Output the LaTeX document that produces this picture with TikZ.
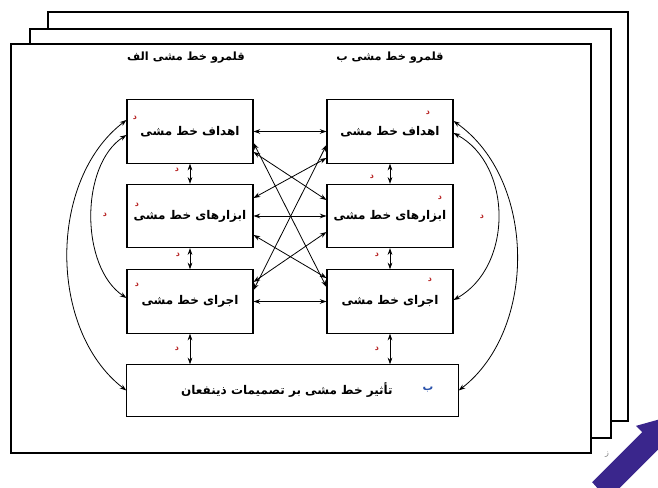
\documentclass[tikz,border=0pt]{standalone}
\usepackage{fontspec}
\newfontfamily\farsi[Script=Arabic]{DejaVu Sans}
\TeXXeTstate=1
\usetikzlibrary{arrows.meta,calc,positioning}
\definecolor{arrowpurple}{RGB}{58,38,140}
\definecolor{markred}{RGB}{185,40,40}
\definecolor{markblue}{RGB}{40,80,170}

\begin{document}
\begin{tikzpicture}[x=0.75pt,y=-0.75pt,
    frame/.style={draw, line width=0.8pt, fill=white},
    box/.style={draw, line width=0.8pt, fill=white, minimum width=94.5pt, minimum height=47.5pt, font=\farsi\bfseries\fontsize{9}{10}\selectfont},
    twoway/.style={{Stealth[length=5pt,width=3.5pt]}-{Stealth[length=5pt,width=3.5pt]}, line width=0.6pt},
    dmark/.style={text=markred, font=\farsi\bfseries\fontsize{6}{6}\selectfont, inner sep=0pt},
    head/.style={font=\farsi\bfseries\fontsize{8.5}{10}\selectfont, inner sep=0pt}]
    \useasboundingbox (0,0) rectangle (658,488);

    % stacked sheets
    \draw [frame] (48,12) rectangle (628,421);
    \draw [frame] (30,29) rectangle (611,438);
    \draw [frame] (11,44) rectangle (591,453);

    \node [head] (heada) at (186,58) {\beginR قلمرو خط مشی الف\endR};
    \node [head] (headb) at (390,58) {\beginR قلمرو خط مشی ب\endR};

    % boxes
    \node [box] (lgoals) at (190,131.5) {\beginR اهداف خط مشی\endR};
    \node [box] (rgoals) at (390,131.5) {\beginR اهداف خط مشی\endR};
    \node [box] (ltools) at (190,216) {\beginR ابزارهای خط مشی\endR};
    \node [box] (rtools) at (390,216) {\beginR ابزارهای خط مشی\endR};
    \node [box] (limpl) at (190,301.5) {\beginR اجرای خط مشی\endR};
    \node [box] (rimpl) at (390,301.5) {\beginR اجرای خط مشی\endR};
    \node [box, minimum width=248.5pt, minimum height=38.5pt] (impact) at (292.5,390.5) {};
    \node [font=\farsi\bfseries\fontsize{9}{10}\selectfont] (impacttext) at (287,390) {\beginR تأثیر خط مشی بر تصمیمات ذینفعان\endR};
    \node [text=markblue, font=\farsi\bfseries\fontsize{8}{9}\selectfont] (bmark) at (428,390) {ب};

    % vertical links
    \draw [twoway] (lgoals) -- (ltools);
    \draw [twoway] (ltools) -- (limpl);
    \draw [twoway] (limpl) -- (limpl |- impact.north);
    \draw [twoway] (rgoals) -- (rtools);
    \draw [twoway] (rtools) -- (rimpl);
    \draw [twoway] (rimpl) -- (rimpl |- impact.north);

    % links across
    \draw [twoway] (lgoals) -- (rgoals);
    \draw [twoway] (ltools) -- (rtools);
    \draw [twoway] (limpl) -- (rimpl);
    \draw [twoway] ($(lgoals.east)+(0,11.5)$) -- ($(rimpl.west)+(0,-14.5)$);
    \draw [twoway] ($(lgoals.east)+(0,20.5)$) -- ($(rtools.west)+(0,-16)$);
    \draw [twoway] ($(rgoals.west)+(0,13.5)$) -- ($(limpl.east)+(0,-11.5)$);
    \draw [twoway] ($(rgoals.west)+(0,26.5)$) -- ($(ltools.east)+(0,-18)$);
    \draw [twoway] ($(ltools.east)+(0,19)$) -- ($(rimpl.west)+(0,-23.5)$);
    \draw [twoway] ($(limpl.east)+(0,-19.5)$) -- ($(rtools.west)+(0,16)$);

    % side curves
    \draw [twoway] ($(lgoals.west)+(0,-11.5)$) .. controls (48,180) and (48,330) .. (impact.west);
    \draw [twoway] ($(lgoals.west)+(0,3.5)$) .. controls (80,165) and (80,267) .. ($(limpl.west)+(0,-3.5)$);
    \draw [twoway] ($(rgoals.east)+(0,-10.5)$) .. controls (537,180) and (537,330) .. (impact.east);
    \draw [twoway] ($(rgoals.east)+(0,1.5)$) .. controls (513,165) and (513,267) .. ($(rimpl.east)+(0,-1.5)$);

    % small marks
    \foreach \px/\py in {135/118, 428/113, 137/205, 440/198, 137/285, 430/280,
        177/170, 372/177, 178/255, 377/255, 177/349, 377/349, 105/215, 482/217}
        \node [dmark] at (\px,\py) {د};
    \node [text=gray, font=\farsi\fontsize{6}{6}\selectfont] (zmark) at (607,455) {ز};

    % big arrow
    \begin{scope}
        \clip (0,0) rectangle (658,488);
        \fill [arrowpurple] (607.8,499.8) -- (657.8,449.8) -- (664.1,456.1) -- (675,415)
            -- (635.9,425.9) -- (642.2,432.2) -- (592.2,482.2) -- cycle;
    \end{scope}
\end{tikzpicture}
\end{document}
